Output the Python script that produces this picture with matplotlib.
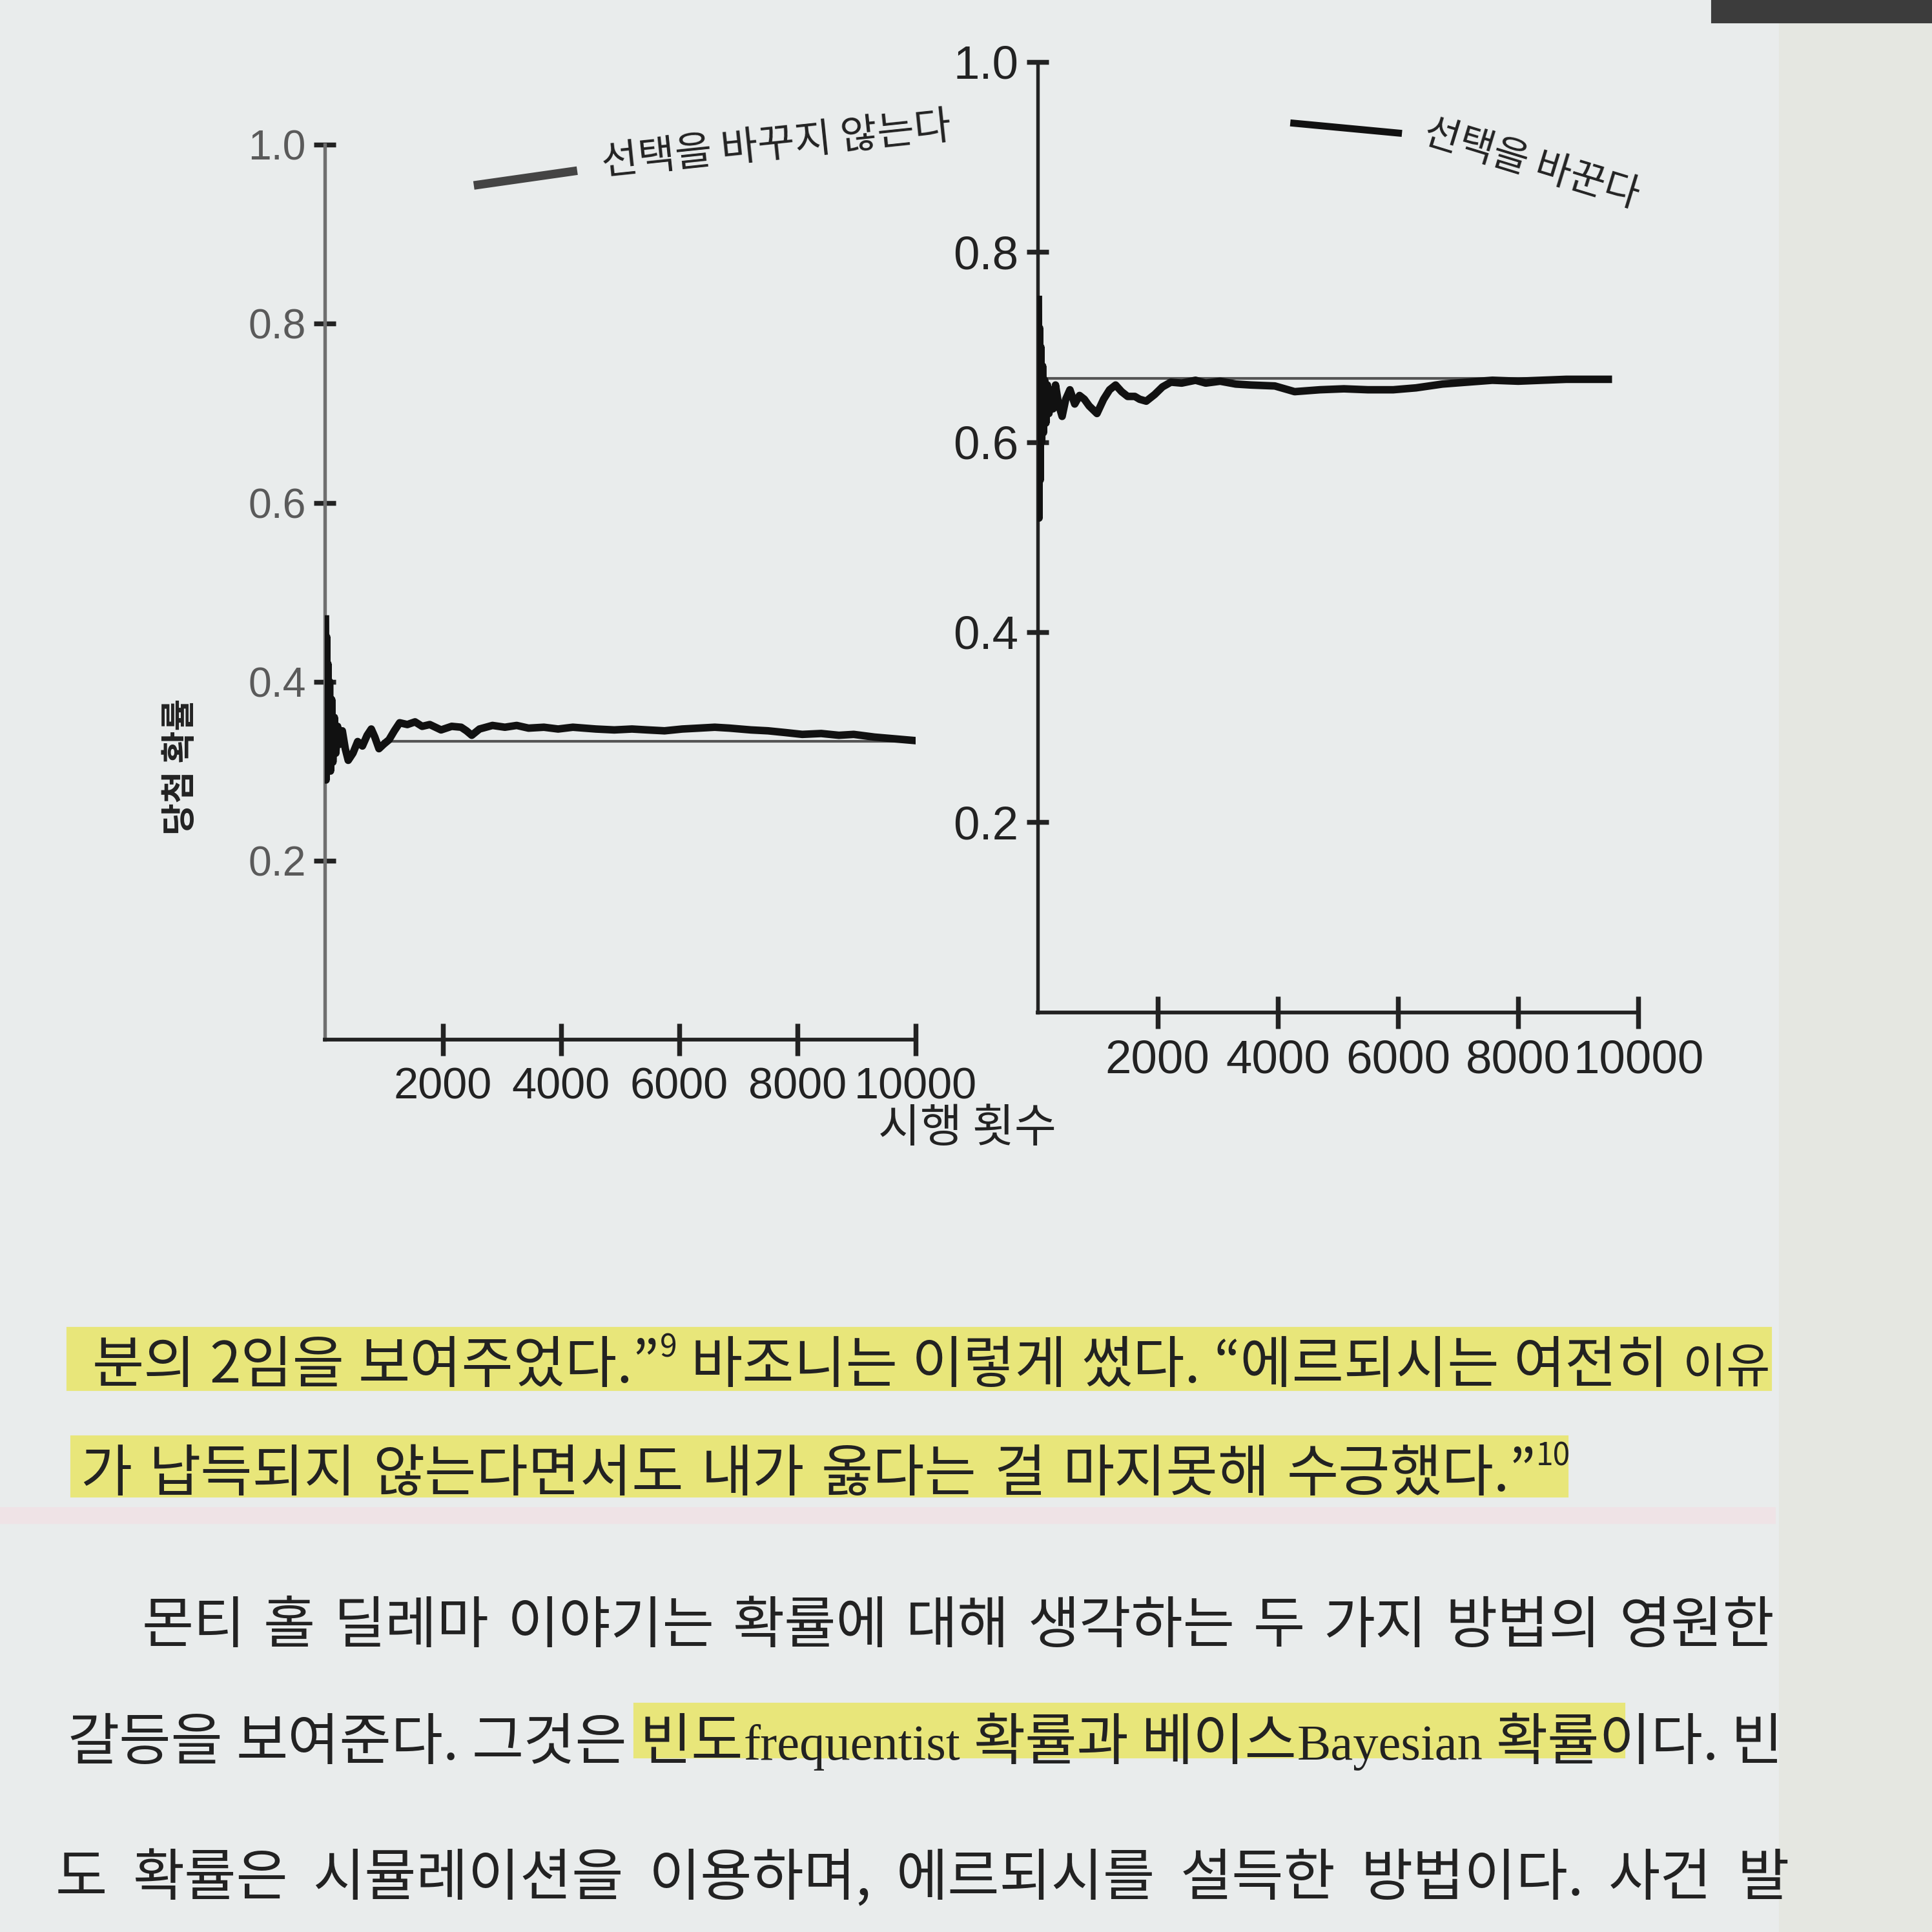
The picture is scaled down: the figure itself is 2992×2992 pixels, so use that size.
import matplotlib
matplotlib.use('Agg')
import matplotlib.pyplot as plt
from matplotlib.lines import Line2D
from matplotlib.patches import Rectangle

plt.rcParams['font.family'] = ['Liberation Sans', 'Noto Sans CJK KR', 'DejaVu Sans']
KR = ['Noto Sans CJK KR', 'DejaVu Sans']

# ---- data ----
# running share of wins, "stay" strategy
stay_n = [15, 25, 35, 45, 55, 70, 85, 100, 120, 140, 165, 190, 220, 260, 300, 350, 400,
          480, 560, 640, 720, 790, 850, 920, 1000, 1090, 1180, 1270, 1400, 1530, 1650,
          1780, 1970, 2150, 2310, 2400, 2490, 2620, 2840, 3050, 3250, 3450, 3710, 3950,
          4200, 4590, 4900, 5200, 5460, 5750, 6050, 6330, 6600, 6850, 7210, 7500, 7800,
          8080, 8400, 8700, 8950, 9300, 9650, 10000]
stay_p = [0.47, 0.29, 0.45, 0.30, 0.42, 0.31, 0.40, 0.30, 0.38, 0.31, 0.36, 0.32, 0.35,
          0.33, 0.345, 0.325, 0.312, 0.32, 0.333, 0.328, 0.34, 0.347, 0.338, 0.325, 0.33,
          0.335, 0.345, 0.354, 0.352, 0.355, 0.350, 0.352, 0.346, 0.350, 0.349, 0.345,
          0.340, 0.347, 0.351, 0.349, 0.351, 0.348, 0.349, 0.347, 0.349, 0.347, 0.346,
          0.347, 0.346, 0.345, 0.347, 0.348, 0.349, 0.348, 0.346, 0.345, 0.343, 0.341,
          0.342, 0.340, 0.341, 0.338, 0.336, 0.334]

# running share of wins, "switch" strategy
switch_n = [15, 25, 35, 45, 55, 70, 85, 100, 120, 140, 165, 190, 220, 260, 300, 350, 410,
            470, 540, 620, 700, 780, 860, 990, 1100, 1200, 1300, 1400, 1500, 1620, 1700,
            1810, 1950, 2080, 2220, 2400, 2630, 2800, 3040, 3300, 3550, 3950, 4280, 4700,
            5100, 5500, 5920, 6300, 6740, 7150, 7570, 8000, 8390, 8800, 9150, 9500]
switch_p = [0.75, 0.52, 0.72, 0.56, 0.70, 0.60, 0.68, 0.61, 0.665, 0.62, 0.66, 0.63, 0.655,
            0.635, 0.66, 0.64, 0.627, 0.645, 0.655, 0.64, 0.649, 0.645, 0.638, 0.63, 0.645,
            0.655, 0.66, 0.653, 0.648, 0.648, 0.645, 0.643, 0.65, 0.658, 0.663, 0.662,
            0.665, 0.662, 0.664, 0.661, 0.660, 0.659, 0.653, 0.655, 0.656, 0.655, 0.655,
            0.657, 0.661, 0.663, 0.665, 0.664, 0.665, 0.666, 0.666, 0.666]

# theoretical values (thin lines)
stay_ref_n = [1000, 10000]
stay_ref_p = [1/3, 1/3]
switch_ref_n = [0, 9500]
switch_ref_p = [2/3, 2/3]

yticks = [0.2, 0.4, 0.6, 0.8, 1.0]
ylabels = ['0.2', '0.4', '0.6', '0.8', '1.0']
xticks = [2000, 4000, 6000, 8000, 10000]
xlabels = ['2000', '4000', '6000', '8000', '10000']

legend_stay = '선택을 바꾸지 않는다'
legend_switch = '선택을 바꾼다'
ylab = '당첨 확률'
xlab = '시행 횟수'

body = [
    [('분의 2임을 보여주었다.”', 'k'), ('9', 'sup'), (' 바조니는 이렇게 썼다. “에르되시는 여전히 ', 'k'),
     ('이유', 'small')],
    [('가 납득되지 않는다면서도 내가 옳다는 걸 마지못해 수긍했다.”', 'k'), ('10', 'sup')],
    [('몬티 홀 딜레마 이야기는 확률에 대해 생각하는 두 가지 방법의 영원한', 'k')],
    [('갈등을 보여준다. 그것은 빈도', 'k'), ('frequentist', 's'), (' 확률과 베이스', 'k'),
     ('Bayesian', 's'), (' 확률이다. 빈', 'k')],
    [('도 확률은 시뮬레이션을 이용하며, 에르되시를 설득한 방법이다. 사건 발', 'k')],
]

S = 1568.0  # coords below were measured on the 1568px preview
def fx(v): return v / S
def fy(v): return 1 - v / S

bg = '#e9ecec'
fig = plt.figure(figsize=(10, 10), dpi=299.2, facecolor=bg)

# page edge / shadow
fig.patches.append(Rectangle((fx(1445), 0), 1, 1, transform=fig.transFigure,
                             color='#e5e7e1', zorder=0))
fig.patches.append(Rectangle((fx(1390), fy(18)), 1, 1, transform=fig.transFigure,
                             color='#3c3c3c', zorder=0))


def style_axes(ax, spine_col, lab_col, ysize, xsize):
    ax.set_facecolor('none')
    for s in ['top', 'right']:
        ax.spines[s].set_visible(False)
    ax.spines['left'].set_color(spine_col)
    ax.spines['left'].set_linewidth(1.3)
    ax.spines['bottom'].set_color('#222222')
    ax.spines['bottom'].set_linewidth(1.4)
    ax.set_xlim(0, 10000)
    ax.set_ylim(0, 1.0)
    ax.set_yticks(yticks)
    ax.set_yticklabels(ylabels)
    ax.set_xticks(xticks)
    ax.set_xticklabels(xlabels)
    ax.tick_params(axis='y', direction='inout', length=8, width=1.8, color='#222222',
                   labelsize=ysize, labelcolor=lab_col, pad=3)
    ax.tick_params(axis='x', direction='inout', length=12, width=1.8, color='#222222',
                   labelsize=xsize, labelcolor='#222222', pad=4)
    for sp in ax.spines.values():
        sp.set_clip_on(False)


axL = fig.add_axes([0.168, 0.462, 0.306, 0.463])
style_axes(axL, '#6f6f6f', '#5a5a5a', 15.5, 16.5)
axL.plot(stay_ref_n, stay_ref_p, color='#555555', lw=1.0, zorder=2)
axL.plot(stay_n, stay_p, color='#111111', lw=2.8, zorder=3, solid_joinstyle='round')

axR = fig.add_axes([0.537, 0.476, 0.311, 0.492])
style_axes(axR, '#222222', '#222222', 17.5, 17.5)
axR.plot(switch_ref_n, switch_ref_p, color='#555555', lw=1.0, zorder=2)
axR.plot(switch_n, switch_p, color='#111111', lw=2.8, zorder=3, solid_joinstyle='round')

# legends (hand placed, rotated like the photo)
fig.add_artist(Line2D([fx(388), fx(465)], [fy(150), fy(139)], color='#444444', lw=3.2))
fig.text(fx(630), fy(118), legend_stay, family=KR, fontsize=15, color='#222222',
         ha='center', va='center', rotation=6)
fig.add_artist(Line2D([fx(1050), fx(1135)], [fy(100), fy(108)], color='#111111', lw=2.6))
fig.text(fx(1243), fy(133), legend_switch, family=KR, fontsize=14.5, color='#222222',
         ha='center', va='center', rotation=-17)

fig.text(fx(147), fy(622), ylab, family=KR, fontsize=13, fontweight='bold',
         color='#222222', ha='center', va='center', rotation=90)
fig.text(fx(785), fy(916), xlab, family=KR, fontsize=17, color='#222222',
         ha='center', va='center')

# ---- body text with highlight bands ----
hl = '#e8e67a'
bands = [(55, 1437, 1078, 1128), (58, 1272, 1166, 1214), (515, 1318, 1383, 1426)]
for x0, x1, y0, y1 in bands:
    fig.patches.append(Rectangle((fx(x0), fy(y1)), fx(x1) - fx(x0), fy(y0) - fy(y1),
                                 transform=fig.transFigure, color=hl, zorder=1))
fig.patches.append(Rectangle((0, fy(1236)), fx(1440), fy(1224) - fy(1236),
                             transform=fig.transFigure, color='#efe3e6', zorder=1))

line_x0 = [75, 65, 115, 55, 45]
line_x1 = [1437, None, 1440, 1447, 1452]
line_y = [1122, 1210, 1333, 1428, 1538]
size = 21
renderer = fig.canvas.get_renderer()
W = fig.bbox.width
em = size * 299.2 / 72 / fig.bbox.height
space = 0.3 * size * 299.2 / 72 / W


def make_piece(txt, kind, y):
    if kind == 'sup':
        return fig.text(0, y + 0.45 * em, txt, family=KR, fontsize=size * 0.55,
                        color='#222222', va='baseline', zorder=3)
    if kind == 's':
        return fig.text(0, y, txt, family='Liberation Serif', fontsize=size * 0.9,
                        color='#222222', va='baseline', zorder=3)
    if kind == 'small':
        return fig.text(0, y, txt, family=KR, fontsize=size * 0.85, color='#222222',
                        va='baseline', zorder=3)
    return fig.text(0, y, txt, family=KR, fontsize=size, color='#222222',
                    va='baseline', zorder=3)


for pieces, x0, x1, yy in zip(body, line_x0, line_x1, line_y):
    words, cur = [], []
    for txt, kind in pieces:
        parts = txt.split(' ')
        for i, p in enumerate(parts):
            if i > 0:
                words.append(cur)
                cur = []
            if p:
                cur.append((p, kind))
    words.append(cur)
    words = [w for w in words if w]
    arts = [[make_piece(t, k, fy(yy)) for t, k in w] for w in words]
    widths = [[a.get_window_extent(renderer).width / W for a in wa] for wa in arts]
    total = sum(sum(ws) for ws in widths)
    if x1 is None:
        gap = space
    else:
        gap = (fx(x1) - fx(x0) - total) / (len(words) - 1)
    x = fx(x0)
    for wa, ws in zip(arts, widths):
        for a, w in zip(wa, ws):
            a.set_x(x)
            x += w
        x += gap

fig.savefig('out.png', dpi=299.2, facecolor=bg)
